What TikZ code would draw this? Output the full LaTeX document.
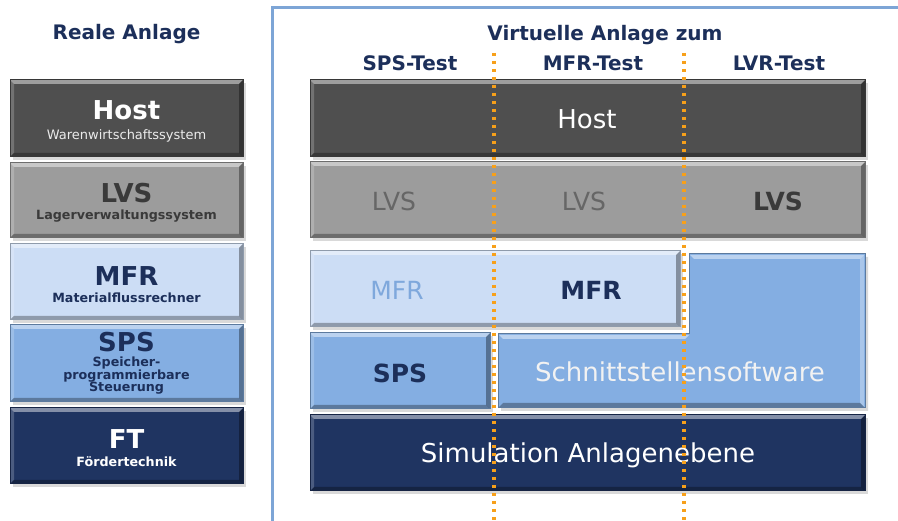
\documentclass[tikz,border=0pt]{standalone}
\usepackage{fontspec}
\setmainfont{DejaVu Sans}
\usetikzlibrary{shadows}
\definecolor{hostgray}{HTML}{4F4F4F}
\definecolor{lvsgray}{HTML}{9C9C9C}
\definecolor{mfrlight}{HTML}{CCDDF5}
\definecolor{spsblue}{HTML}{84AEE2}
\definecolor{ftnavy}{HTML}{1F3461}
\definecolor{navytext}{HTML}{1C2F5A}
\definecolor{dotorange}{HTML}{F7A01A}
\definecolor{framecol}{HTML}{7DA5D6}
\definecolor{lvsdark}{HTML}{3A3A3A}
\definecolor{lvslight}{HTML}{666666}
\definecolor{mfrtext}{HTML}{7FA8DC}
\tikzset{
  bevel/.style={path picture={
    \fill[white,opacity=.45] (path picture bounding box.north west) -- (path picture bounding box.north east)
      -- ([shift={(-4pt,-4pt)}]path picture bounding box.north east) -- ([shift={(4pt,-4pt)}]path picture bounding box.north west) -- cycle;
    \fill[white,opacity=.2] (path picture bounding box.north west) -- (path picture bounding box.south west)
      -- ([shift={(4pt,4pt)}]path picture bounding box.south west) -- ([shift={(4pt,-4pt)}]path picture bounding box.north west) -- cycle;
    \fill[black,opacity=.3] (path picture bounding box.south west) -- (path picture bounding box.south east)
      -- ([shift={(-4pt,4pt)}]path picture bounding box.south east) -- ([shift={(4pt,4pt)}]path picture bounding box.south west) -- cycle;
    \fill[black,opacity=.35] (path picture bounding box.north east) -- (path picture bounding box.south east)
      -- ([shift={(-4pt,4pt)}]path picture bounding box.south east) -- ([shift={(-4pt,-4pt)}]path picture bounding box.north east) -- cycle;
  }},
  layerbox/.style={rectangle, inner sep=0pt, fill=#1, draw=#1!70!black, line width=1pt, bevel,
    drop shadow={opacity=0.3, shadow xshift=3pt, shadow yshift=-3pt}},
  big/.style={anchor=base, font=\fontsize{25}{25}\selectfont, inner sep=0pt},
  bigb/.style={anchor=base, font=\bfseries\fontsize{25}{25}\selectfont, inner sep=0pt},
  ltitle/.style={anchor=base, font=\bfseries\fontsize{26}{26}\selectfont, inner sep=0pt},
  head/.style={anchor=base, font=\bfseries\fontsize{20}{20}\selectfont, text=navytext, inner sep=0pt},
  subt/.style={anchor=base, font=\bfseries\fontsize{12.7}{12.7}\selectfont, inner sep=0pt},
  dotline/.style={draw=dotorange, line width=3.2pt, dash pattern=on 3.4pt off 4.6pt},
}
\begin{document}
\begin{tikzpicture}[x=1pt,y=-1pt]
\useasboundingbox (0,0) rectangle (898,521);

% ---------- left column ----------
\node[head] (realt) at (126.5,40) {Reale Anlage};

\node[layerbox=hostgray, minimum width=233pt, minimum height=77pt] (lhost) at (126.5,118.5) {};
\node[layerbox=lvsgray, minimum width=233pt, minimum height=75pt] (llvs) at (126.5,200.5) {};
\node[layerbox=mfrlight, minimum width=233pt, minimum height=76pt] (lmfr) at (126.5,282) {};
\node[layerbox=spsblue, minimum width=233pt, minimum height=77pt] (lsps) at (126.5,363.5) {};
\node[layerbox=ftnavy, minimum width=233pt, minimum height=76pt] (lft) at (126.5,446) {};

\node[ltitle, text=white] (lhostt) at (126.5,120) {Host};
\node[anchor=base, inner sep=0pt, text=white!92!black, font=\fontsize{13}{13}\selectfont] (lhosts) at (126.5,140) {Warenwirtschaftssystem};
\node[ltitle, text=lvsdark] (llvst) at (126.5,203) {LVS};
\node[subt, text=lvsdark] (llvss) at (126.5,220) {Lagerverwaltungssystem};
\node[ltitle, text=navytext] (lmfrt) at (126.5,286) {MFR};
\node[subt, text=navytext] (lmfrs) at (126.5,303) {Materialflussrechner};
\node[ltitle, text=navytext] (lspst) at (126.5,352) {SPS};
\node[subt, text=navytext] (lspss1) at (126.5,367) {Speicher-};
\node[subt, text=navytext] (lspss2) at (126.5,379.5) {programmierbare};
\node[subt, text=navytext] (lspss3) at (126.5,392) {Steuerung};
\node[ltitle, text=white] (lftt) at (126.5,449) {FT};
\node[subt, text=white] (lfts) at (126.5,467) {Fördertechnik};

% ---------- frame ----------
\coordinate (fbot) at (272,521);
\coordinate (fcorner) at (272,8);
\coordinate (fright) at (898,8);
\draw[framecol, line width=3pt] (fbot) -- (fcorner) -- (fright);

% ---------- right headings ----------
\node[head] (virt) at (605,41) {Virtuelle Anlage zum};
\node[head] (spstest) at (410,71) {SPS-Test};
\node[head] (mfrtest) at (593,71) {MFR-Test};
\node[head] (lvrtest) at (779,71) {LVR-Test};

% ---------- right boxes ----------
\node[layerbox=hostgray, minimum width=555pt, minimum height=77pt] (rhost) at (587.5,118.5) {};
\node[layerbox=lvsgray, minimum width=555pt, minimum height=76pt] (rlvs) at (587.5,200) {};
\node[layerbox=mfrlight, minimum width=370pt, minimum height=76pt] (rmfr) at (495,289) {};
\node[layerbox=spsblue, minimum width=180pt, minimum height=76pt] (rsps) at (400,371) {};
% L-shaped interface software block
\path[fill=spsblue, draw=spsblue!70!black, line width=1pt,
      drop shadow={opacity=0.3, shadow xshift=3pt, shadow yshift=-3pt}]
  (498,334) -- (689,334) -- (689,254) -- (865,254) -- (865,408) -- (498,408) -- cycle;
\fill[white,opacity=.45] (499,335) -- (689,335) -- (685,339) -- (503,339) -- cycle;
\fill[white,opacity=.45] (690,255) -- (864,255) -- (860,259) -- (694,259) -- cycle;
\fill[white,opacity=.3] (864,255) -- (864,407) -- (860,403) -- (860,259) -- cycle;
\fill[black,opacity=.3] (499,407) -- (864,407) -- (860,403) -- (503,403) -- cycle;
\node[layerbox=ftnavy, minimum width=555pt, minimum height=76pt] (rsim) at (587.5,453) {};

% ---------- right labels ----------
\node[big, text=white, font=\fontsize{26}{26}\selectfont] (rhostt) at (587,129) {Host};
\node[big, text=lvslight] (rlvs1) at (394,211) {LVS};
\node[big, text=lvslight] (rlvs2) at (584,211) {LVS};
\node[bigb, text=lvsdark] (rlvs3) at (778,211) {LVS};
\node[big, text=mfrtext] (rmfr1) at (397,300) {MFR};
\node[bigb, text=navytext] (rmfr2) at (591,300) {MFR};
\node[bigb, text=navytext] (rspst) at (400,383) {SPS};
\node[big, text=white!95!black, font=\fontsize{26}{26}\selectfont] (schnitt) at (680,382) {Schnittstellensoftware};
\node[big, text=white, font=\fontsize{26}{26}\selectfont] (simt) at (588,463) {Simulation Anlagenebene};

% ---------- dotted separators ----------
\coordinate (d1top) at (494,53);
\coordinate (d1bot) at (494,521);
\coordinate (d2top) at (684,53);
\coordinate (d2bot) at (684,521);
\draw[dotline] (d1top) -- (d1bot);
\draw[dotline] (d2top) -- (d2bot);
\end{tikzpicture}
\end{document}
